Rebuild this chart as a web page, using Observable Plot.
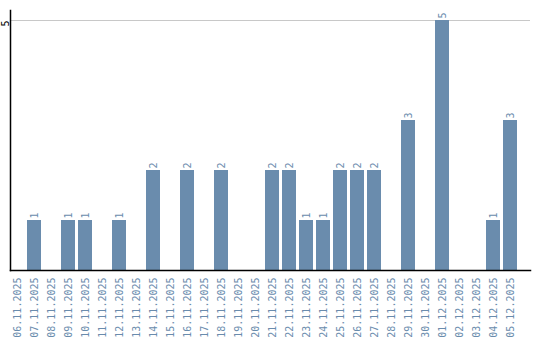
<!DOCTYPE html>
<html>
<head>
<meta charset="utf-8">
<script src="https://cdn.jsdelivr.net/npm/d3@7"></script>
<script src="https://cdn.jsdelivr.net/npm/@observablehq/plot@0.6"></script>
<style>
  html, body { margin: 0; padding: 0; background: #fff; }
</style>
</head>
<body>
<div id="chart"></div>
<script>
const dates = ["06.11.2025","07.11.2025","08.11.2025","09.11.2025","10.11.2025","11.11.2025","12.11.2025","13.11.2025","14.11.2025","15.11.2025","16.11.2025","17.11.2025","18.11.2025","19.11.2025","20.11.2025","21.11.2025","22.11.2025","23.11.2025","24.11.2025","25.11.2025","26.11.2025","27.11.2025","28.11.2025","29.11.2025","30.11.2025","01.12.2025","02.12.2025","03.12.2025","04.12.2025","05.12.2025"];
const counts = [0,1,0,1,1,0,1,0,2,0,2,0,2,0,0,2,2,1,1,2,2,2,0,3,0,5,0,0,1,3];
const yTicks = [5];

const data = dates.map((d, i) => ({date: d, count: counts[i]}));
const barColor = "#6a8cad";
const font = "DejaVu Sans Mono";

const chart = Plot.plot({
  width: 540,
  height: 340,
  marginTop: 10,
  marginBottom: 70,
  marginLeft: 10,
  marginRight: 10,
  style: {fontFamily: font, fontSize: "10px", background: "#fff"},
  x: {type: "band", domain: dates, paddingInner: 0.18, paddingOuter: 0.38, align: 0, round: true, label: null, axis: null},
  y: {domain: [0, 5.2], label: null, axis: null},
  marks: [
    Plot.ruleY(yTicks, {stroke: "#c8c8c8", strokeWidth: 1}),
    Plot.barY(data, {x: "date", y: "count", fill: barColor}),
    Plot.text(data.filter(d => d.count > 0), {
      x: "date", y: "count", text: d => String(d.count),
      rotate: -90, textAnchor: "start", dy: -2, fill: barColor,
      fontFamily: font, fontSize: 10
    }),
    Plot.axisX({tickSize: 0, tickPadding: 7, tickRotate: -90, fill: barColor, fontFamily: font, fontSize: 10, label: null}),
    Plot.text(yTicks, {
      y: d => d, text: d => String(d), frameAnchor: "left", rotate: -90,
      textAnchor: "end", dx: -5, fill: "#000", fontFamily: font, fontSize: 10
    }),
    Plot.frame({anchor: "left", stroke: "#000", strokeWidth: 1.5}),
    Plot.frame({anchor: "bottom", stroke: "#000", strokeWidth: 1.5})
  ]
});
document.getElementById("chart").appendChild(chart);
</script>
</body>
</html>
